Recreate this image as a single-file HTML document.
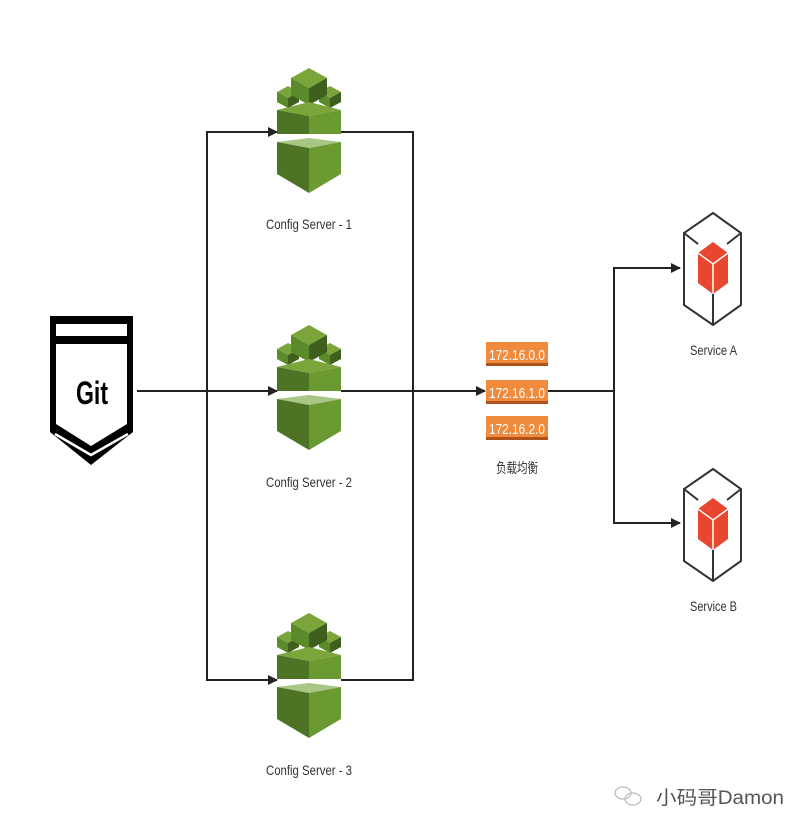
<!DOCTYPE html>
<html><head><meta charset="utf-8"><style>
html,body{margin:0;padding:0;background:#fff}
svg{display:block}
text{font-family:"Liberation Sans","Noto Sans CJK SC",sans-serif}
</style></head><body>
<svg width="810" height="833" viewBox="0 0 810 833" xmlns="http://www.w3.org/2000/svg">
<defs>
<marker id="ar" markerWidth="10" markerHeight="10" refX="9" refY="5" orient="auto" markerUnits="userSpaceOnUse">
<path d="M0,0 L10,5 L0,10 z" fill="#222"/>
</marker>
<g id="cs">
 <polygon points="0,24 11,18 22,24 11,30" fill="#7aa53a"/>
 <polygon points="0,24 11,30 11,40 0,34" fill="#5a8a2a"/>
 <polygon points="11,30 22,24 22,34 11,40" fill="#3f5f1f"/>
 <polygon points="42,24 53,18 64,24 53,30" fill="#7aa53a"/>
 <polygon points="42,24 53,30 53,40 42,34" fill="#5a8a2a"/>
 <polygon points="53,30 64,24 64,34 53,40" fill="#3f5f1f"/>
 <polygon points="32,0 14,10 32,20 50,10" fill="#7aa53a"/>
 <polygon points="14,10 32,20 32,37 14,27" fill="#5a8a2a"/>
 <polygon points="32,20 50,10 50,27 32,37" fill="#3f5f1f"/>
 <polygon points="0,42 32,34 64,42 32,48" fill="#7aa53a"/>
 <polygon points="0,42 32,48 32,66 0,66" fill="#4d7325"/>
 <polygon points="32,48 64,42 64,66 32,66" fill="#6b9a33"/>
 <polygon points="0,74 32,70 64,74 32,80" fill="#a8c785"/>
 <polygon points="0,74 32,80 32,125 0,106" fill="#4d7325"/>
 <polygon points="32,80 64,74 64,106 32,125" fill="#6b9a33"/>
</g>
<g id="svc">
 <polygon points="29,0 57,20 57,92 29,112 0,92 0,20" fill="none" stroke="#333" stroke-width="2"/>
 <line x1="0" y1="20" x2="14" y2="31" stroke="#333" stroke-width="2"/>
 <line x1="57" y1="20" x2="43" y2="31" stroke="#333" stroke-width="2"/>
 <line x1="29" y1="80" x2="29" y2="112" stroke="#333" stroke-width="2"/>
 <polygon points="29,29 44,40 44,70 29,81 14,70 14,40" fill="#e8462e"/>
 <polyline points="14,40 29,51 44,40" fill="none" stroke="#fff" stroke-width="1.5"/>
 <line x1="29" y1="51" x2="29" y2="81" stroke="#fff" stroke-width="1.5"/>
</g>
</defs>

<g stroke="#222" stroke-width="2" fill="none">
 <line x1="137" y1="391" x2="277" y2="391" marker-end="url(#ar)"/>
 <polyline points="277,132 207,132 207,680 277,680"/>
 <line x1="207" y1="132" x2="277" y2="132" marker-end="url(#ar)"/>
 <line x1="207" y1="680" x2="277" y2="680" marker-end="url(#ar)"/>
 <polyline points="341,132 413,132 413,680 341,680"/>
 <line x1="341" y1="391" x2="485" y2="391" marker-end="url(#ar)"/>
 <line x1="548" y1="391" x2="614" y2="391"/>
 <polyline points="680,268 614,268 614,523 680,523"/>
 <line x1="614" y1="268" x2="680" y2="268" marker-end="url(#ar)"/>
 <line x1="614" y1="523" x2="680" y2="523" marker-end="url(#ar)"/>
</g>

<use href="#cs" x="277" y="68"/>
<use href="#cs" x="277" y="325"/>
<use href="#cs" x="277" y="613"/>
<g font-size="14" fill="#333">
 <text x="266" y="229" textLength="86" lengthAdjust="spacingAndGlyphs">Config Server - 1</text>
 <text x="266" y="487" textLength="86" lengthAdjust="spacingAndGlyphs">Config Server - 2</text>
 <text x="266" y="775" textLength="86" lengthAdjust="spacingAndGlyphs">Config Server - 3</text>
</g>

<g>
 <path d="M50,316 H133 V432 L91,465 L50,432 Z" fill="#000"/>
 <rect x="56" y="324" width="71" height="12" fill="#fff"/>
 <path d="M56,344 H127 V424 L91,446 L56,424 Z" fill="#fff"/>
 <path d="M55,434 L91,455 L128,434" fill="none" stroke="#fff" stroke-width="2.5"/>
 <text x="76" y="404" font-size="32" font-weight="bold" fill="#000" textLength="32" lengthAdjust="spacingAndGlyphs">Git</text>
</g>

<g>
 <rect x="486" y="342" width="62" height="24" fill="#f08a3c"/>
 <rect x="486" y="363" width="62" height="3" fill="#b0521c"/>
 <rect x="486" y="380" width="62" height="24" fill="#f08a3c"/>
 <rect x="486" y="401" width="62" height="3" fill="#b0521c"/>
 <rect x="486" y="416" width="62" height="24" fill="#f08a3c"/>
 <rect x="486" y="437" width="62" height="3" fill="#b0521c"/>
 <g font-size="15" fill="#fff">
  <text x="489" y="360" textLength="56" lengthAdjust="spacingAndGlyphs">172.16.0.0</text>
  <text x="489" y="398" textLength="56" lengthAdjust="spacingAndGlyphs">172.16.1.0</text>
  <text x="489" y="434" textLength="56" lengthAdjust="spacingAndGlyphs">172.16.2.0</text>
 </g>
 <text x="496" y="473" font-size="14" fill="#333" textLength="42" lengthAdjust="spacingAndGlyphs">负载均衡</text>
</g>

<use href="#svc" x="684" y="213"/>
<use href="#svc" x="684" y="469"/>
<g font-size="14" fill="#333">
 <text x="690" y="355" textLength="47" lengthAdjust="spacingAndGlyphs">Service A</text>
 <text x="690" y="611" textLength="47" lengthAdjust="spacingAndGlyphs">Service B</text>
</g>

<g fill="none" stroke="#bbb" stroke-width="1.2">
 <ellipse cx="623" cy="793" rx="8" ry="6"/>
 <ellipse cx="633" cy="799" rx="8" ry="6"/>
</g>
<text x="656" y="804" font-size="19" fill="#555" textLength="128" lengthAdjust="spacingAndGlyphs">小码哥Damon</text>
</svg>
</body></html>
